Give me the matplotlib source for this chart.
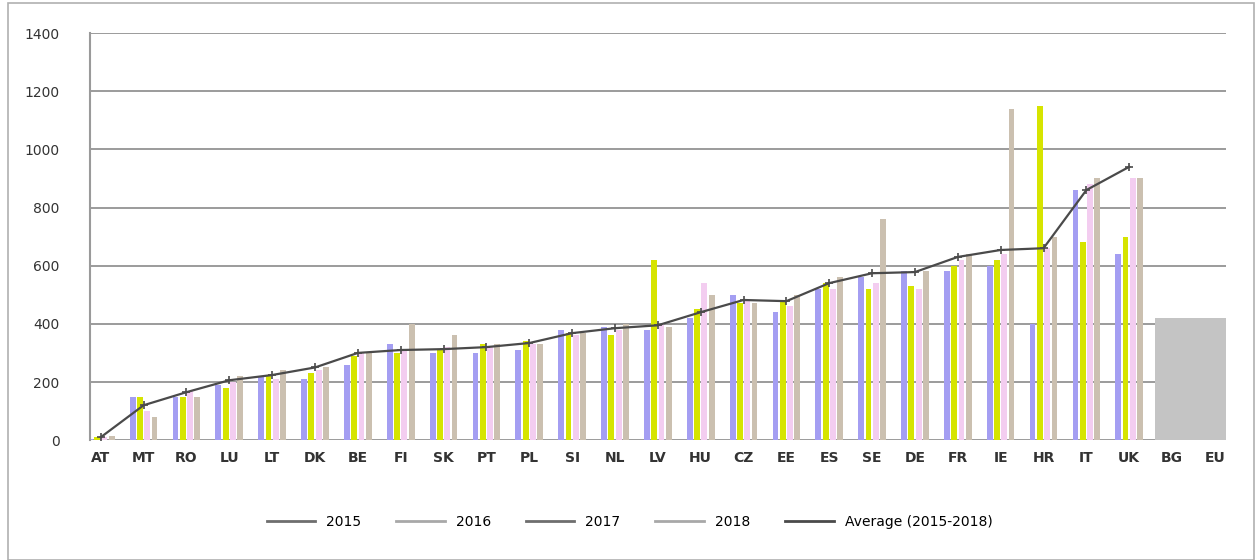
import matplotlib.pyplot as plt
from matplotlib.lines import Line2D
import numpy as np

# Categories and series
countries = ['AT', 'MT', 'RO', 'LU', 'LT', 'DK', 'BE', 'FI', 'SK', 'PT', 'PL', 'SI', 'NL', 'LV',
             'HU', 'CZ', 'EE', 'ES', 'SE', 'DE', 'FR', 'IE', 'HR', 'IT', 'UK', 'BG', 'EU']
years = ['2015', '2016', '2017', '2018']

v2015 = [5, 150, 150, 190, 220, 210, 260, 330, 300, 300, 310, 380, 390, 380,
         420, 500, 440, 520, 560, 580, 580, 600, 400, 860, 640, np.nan, np.nan]
v2016 = [10, 150, 150, 180, 220, 230, 290, 300, 310, 330, 340, 370, 360, 620,
         450, 470, 480, 540, 520, 530, 600, 620, 1150, 680, 700, np.nan, np.nan]
v2017 = [10, 100, 170, 200, 210, 240, 300, 310, 320, 320, 330, 360, 380, 400,
         540, 480, 460, 520, 540, 520, 620, 640, 660, 880, 900, np.nan, np.nan]
v2018 = [15, 80, 150, 220, 240, 250, 300, 400, 360, 330, 330, 370, 400, 390,
         500, 470, 500, 560, 760, 580, 640, 1140, 700, 900, 900, np.nan, np.nan]
average = [10, 120, 165, 206, 224, 250, 300, 310, 313, 320, 334, 368, 385, 395,
           440, 482, 478, 540, 574, 578, 630, 654, 660, 860, 940, np.nan, np.nan]
eu_total = 420

series = [v2015, v2016, v2017, v2018]
colors = ['#a49ef2', '#d6e400', '#f3cdf0', '#cbc0b0']

fig = plt.figure(figsize=(12.59, 5.6), dpi=100)
ax = fig.add_axes([0.0715, 0.214, 0.902, 0.727])

x = np.arange(len(countries))
w = 0.17
for i, (vals, c) in enumerate(zip(series, colors)):
    ax.bar(x + (i - 1.5) * w, vals, width=w * 0.8, color=c, zorder=2)

# gray block for the EU figure, spread over the last two slots
ax.bar(x[-2:].mean(), eu_total, width=1.8, color='#c4c4c4', zorder=2)

ax.plot(x, average, color='#4a4a4a', lw=1.6, marker='+', ms=6, mew=1.2, zorder=3)

ax.set_ylim(0, 1400)
ax.set_xlim(-0.25, 26.25)
ax.set_yticks(range(0, 1401, 200))
ax.set_xticks(x)
ax.set_xticklabels(countries, fontsize=10, fontweight='bold', color='#333333')
ax.tick_params(axis='y', labelsize=10, colors='#333333', length=0, pad=22)
ax.tick_params(axis='x', length=0, pad=8)
ax.grid(axis='y', color='#8a8a8a', lw=1.2, zorder=0)
for s in ['top', 'right', 'bottom']:
    ax.spines[s].set_visible(False)
ax.spines['left'].set_color('#9a9a9a')
ax.spines['left'].set_linewidth(1.5)

handles = [Line2D([], [], color=c, lw=2) for c in ['#6e6e6e', '#a8a8a8', '#6e6e6e', '#a8a8a8', '#4a4a4a']]
fig.legend(handles, years + ['Average (2015-2018)'], loc='center', bbox_to_anchor=(0.5, 0.068),
           ncol=5, frameon=False, fontsize=10, handlelength=3.5, columnspacing=2.5)

# outer chart border
fig.patches.append(plt.Rectangle((0.006, 0.0), 0.99, 0.995, transform=fig.transFigure,
                                 fill=False, edgecolor='#b0b0b0', lw=1.2))

fig.savefig('out.png', dpi=100)
